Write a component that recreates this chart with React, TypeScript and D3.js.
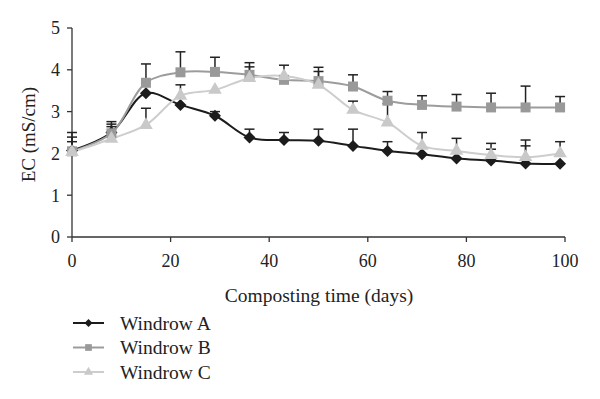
import * as d3 from "d3"

const days = [0, 8, 15, 22, 29, 36, 43, 50, 57, 64, 71, 78, 85, 92, 99]
const windrowA = [2.07, 2.5, 3.44, 3.16, 2.9, 2.38, 2.32, 2.3, 2.18, 2.06, 1.98, 1.88, 1.83, 1.76, 1.75]
const windrowB = [2.05, 2.48, 3.69, 3.94, 3.95, 3.88, 3.76, 3.73, 3.6, 3.26, 3.16, 3.12, 3.1, 3.1, 3.1]
const windrowC = [2.03, 2.35, 2.68, 3.38, 3.52, 3.8, 3.85, 3.64, 3.04, 2.74, 2.18, 2.06, 1.96, 1.91, 2.0]
const errA = [0.32, 0.2, 0, 0, 0.1, 0.2, 0.18, 0.28, 0.4, 0.22, 0, 0, 0.27, 0.42, 0]
const errB = [0.45, 0.28, 0.45, 0.49, 0.35, 0.29, 0, 0.33, 0.28, 0.22, 0.22, 0.29, 0.34, 0.51, 0.26]
const errC = [0.25, 0.29, 0.4, 0.26, 0, 0.27, 0.26, 0.32, 0.21, 0.45, 0.32, 0.3, 0.28, 0.41, 0.28]
const xTicks = [0, 20, 40, 60, 80, 100]
const yTicks = [0, 1, 2, 3, 4, 5]
const seriesNames = ["Windrow A", "Windrow B", "Windrow C"]

const W = 600
const H = 399
const FONT = "'Liberation Serif', 'DejaVu Serif', serif"

// diamond = square turned 45°
const series = [
  { name: seriesNames[0], values: windrowA, err: errA, color: "#1c1c1c", fill: "#1c1c1c", symbol: d3.symbolSquare, size: 72, rot: 45 },
  { name: seriesNames[1], values: windrowB, err: errB, color: "#9c9c9c", fill: "#999999", symbol: d3.symbolSquare, size: 100, rot: 0 },
  { name: seriesNames[2], values: windrowC, err: errC, color: "#cdcdcd", fill: "#c9c9c9", symbol: d3.symbolTriangle, size: 80, rot: 0 },
]

export default function App() {
  const x = d3.scaleLinear().domain([0, 100]).range([72, 565])
  const y = d3.scaleLinear().domain([0, 5]).range([237, 28])

  const line = d3.line<number>()
    .x((_, i) => x(days[i]))
    .y(d => y(d))
    .curve(d3.curveCatmullRom.alpha(0.5))

  return (
    <svg width={W} height={H} style={{ position: "absolute", left: 0, top: 0, background: "#fff" }}>
      {/* axes */}
      <g stroke="#333" strokeWidth={1.3} fill="none">
        <line x1={x(0)} x2={x(0)} y1={y(0)} y2={y(5)} />
        <line x1={x(0)} x2={x(100)} y1={y(0)} y2={y(0)} />
        {yTicks.map(t => <line key={"yt" + t} x1={x(0) - 5} x2={x(0)} y1={y(t)} y2={y(t)} />)}
        {xTicks.map(t => <line key={"xt" + t} x1={x(t)} x2={x(t)} y1={y(0)} y2={y(0) + 5} />)}
      </g>
      <g fontFamily={FONT} fontSize={18} fill="#222">
        {yTicks.map(t => (
          <text key={"yl" + t} x={x(0) - 12} y={y(t)} dy="0.35em" textAnchor="end">{t}</text>
        ))}
        {xTicks.map(t => (
          <text key={"xl" + t} x={x(t)} y={y(0) + 24} dy="0.35em" textAnchor="middle">{t}</text>
        ))}
        <text x={319} y={y(0) + 58} dy="0.35em" textAnchor="middle" fontSize={19.5}>Composting time (days)</text>
        <text transform={`translate(28,${y(2.45)}) rotate(-90)`} dy="0.35em" textAnchor="middle" fontSize={19}>EC (mS/cm)</text>
      </g>

      {/* lines */}
      {series.map(s => (
        <path key={"l" + s.name} d={line(s.values) ?? ""} fill="none" stroke={s.color} strokeWidth={2} />
      ))}

      {/* error bars */}
      <g stroke="#222" strokeWidth={1.5}>
        {series.map(s => s.values.map((v, i) => s.err[i] > 0 ? (
          <g key={s.name + "e" + i}>
            <line x1={x(days[i])} x2={x(days[i])} y1={y(v)} y2={y(v + s.err[i])} />
            <line x1={x(days[i]) - 5} x2={x(days[i]) + 5} y1={y(v + s.err[i])} y2={y(v + s.err[i])} />
          </g>
        ) : null))}
      </g>

      {/* markers */}
      {series.map(s => (
        <g key={"m" + s.name} fill={s.fill}>
          {s.values.map((v, i) => (
            <path key={i} transform={`translate(${x(days[i])},${y(v)}) rotate(${s.rot})`}
              d={d3.symbol(s.symbol, s.size)() ?? ""} />
          ))}
        </g>
      ))}

      {/* legend */}
      {series.map((s, i) => {
        const ly = 323 + i * 24.5
        return (
          <g key={"lg" + s.name}>
            <line x1={73} x2={104} y1={ly} y2={ly} stroke={s.color} strokeWidth={2} />
            <path transform={`translate(88.5,${ly}) rotate(${s.rot})`} d={d3.symbol(s.symbol, s.size * 0.45)() ?? ""} fill={s.fill} />
            <text x={120} y={ly} dy="0.35em" fontFamily={FONT} fontSize={19.5} fill="#222">{s.name}</text>
          </g>
        )
      })}
    </svg>
  )
}
